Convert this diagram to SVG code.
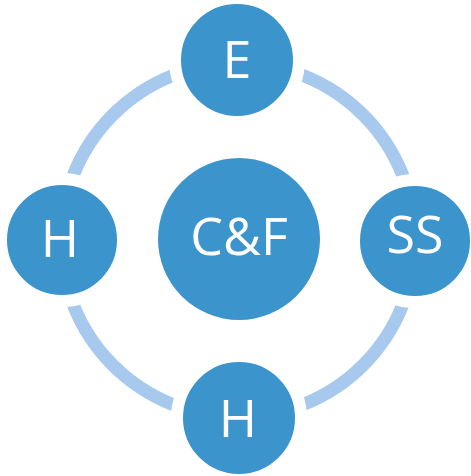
<svg xmlns="http://www.w3.org/2000/svg" width="471" height="476" viewBox="0 0 471 476">
<style>
.node{fill:#3b94cb;stroke:#ffffff;stroke-width:12}
.center{fill:#3b94cb}
.lbl{font-family:"Open Sans","Liberation Sans",sans-serif;font-size:52px;fill:#ffffff;text-anchor:middle}
.ring{fill:none;stroke:#a8c9ee;stroke-width:13}
</style>
<rect width="471" height="476" fill="#ffffff"/>
<g id="connectors">
<circle class="ring" cx="238" cy="240" r="177"/>
</g>
<g id="node-e"><circle class="node" cx="237" cy="60" r="62"/><text class="lbl" x="237" y="78">E</text></g>
<g id="node-h-left"><circle class="node" cx="62" cy="240" r="61"/><text class="lbl" x="60" y="257">H</text></g>
<g id="node-ss"><circle class="node" cx="415" cy="241" r="61"/><text class="lbl" x="415" y="253">SS</text></g>
<g id="node-h-bottom"><circle class="node" cx="239" cy="418" r="62"/><text class="lbl" x="238" y="437">H</text></g>
<g id="node-cf"><circle class="center" cx="239" cy="239" r="81"/><text class="lbl" x="239" y="255">C&amp;F</text></g>
</svg>
